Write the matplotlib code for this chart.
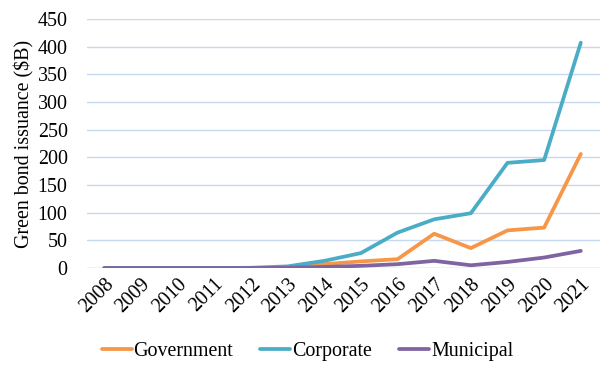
import matplotlib.pyplot as plt

plt.rcParams['font.family'] = ['Liberation Serif', 'DejaVu Serif']

years = list(range(2008, 2022))
government = [0, 0, 0, 0, 0, 1, 7, 12, 16, 62, 36, 68, 73, 206]
corporate = [0, 0, 0, 0, 0.5, 3, 13, 27, 64, 88, 99, 190, 195, 407]
municipal = [0, 0, 0, 0, 0, 0.5, 2, 4, 7, 13, 5, 11, 19, 31]

fig = plt.figure(figsize=(6.09, 3.77), dpi=100)
ax = fig.add_axes([0.143, 0.289, 0.842, 0.661])

for y in range(50, 451, 50):
    ax.axhline(y, color='#c6d9f1', lw=1.0, zorder=0)
ax.axhline(0, color='#bfbfbf', lw=1.0, zorder=0)

ax.plot(years, government, color='#f79646', lw=2.7, label='Government', solid_capstyle='round')
ax.plot(years, corporate, color='#4bacc6', lw=2.7, label='Corporate', solid_capstyle='round')
ax.plot(years, municipal, color='#8064a2', lw=2.7, label='Municipal', solid_capstyle='round')

ax.set_xlim(2007.53, 2021.52)
ax.set_ylim(0, 450)
ax.set_yticks(range(0, 451, 50))
ax.set_xticks(years)
ax.set_xticklabels([str(y) for y in years], rotation=45, ha='right', rotation_mode='anchor')
ax.tick_params(axis='both', length=0, labelsize=14.4)
ax.tick_params(axis='y', pad=14)
ax.tick_params(axis='x', pad=5)
for s in ax.spines.values():
    s.set_visible(False)
ax.set_ylabel('Green bond issuance ($B)', fontsize=14.4, labelpad=2)

fig.legend(loc='center', bbox_to_anchor=(0.505, 0.067), ncol=3, frameon=False,
           fontsize=14.4, handlelength=1.5, handletextpad=0.1, columnspacing=1.35)

fig.savefig('out.png', dpi=100)
